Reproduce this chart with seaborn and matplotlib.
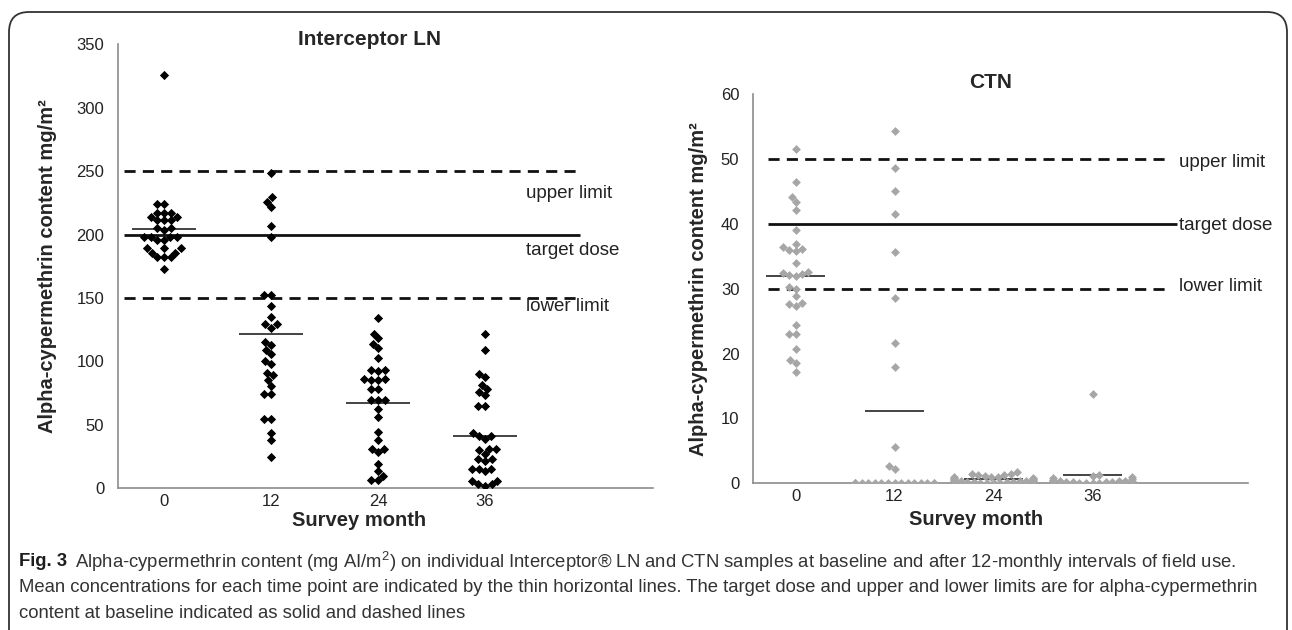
import warnings
import matplotlib
matplotlib.use("Agg")
import matplotlib.pyplot as plt
from matplotlib import font_manager
from matplotlib.patches import FancyBboxPatch
import seaborn as sns
import pandas as pd

warnings.filterwarnings("ignore")

# ---- data ----------------------------------------------------------------
months = ["0", "12", "24", "36"]

ln_m0 = [326, 223.7, 223.7, 216.9, 216.9, 216.9, 214, 214, 211.6, 211.6, 211.6,
         205, 205, 203.7, 197.9, 197.9, 197.9, 197.9, 195.8, 195.8, 189, 189, 189,
         185.8, 185.8, 182, 182, 182, 172.6]
ln_m12 = [248.5, 229.6, 226, 221.6, 206.9, 197.9, 152.2, 152.2, 143.5, 134.6,
          129.3, 129.3, 126.6, 115.3, 112.7, 108.7, 105.5, 100.3, 97.6, 90.8, 88.9,
          85, 80.2, 74.4, 74.4, 54.6, 54.6, 43.3, 37.5, 24.3]
ln_m24 = [133.8, 121.9, 118, 114, 110.8, 102.9, 93.4, 93.4, 92, 86.3, 86.3, 85, 85,
          78.4, 78.4, 69.1, 69.1, 69.1, 62.5, 55.9, 44, 37.5, 30.9, 30.9, 28.2, 19,
          13.7, 9.8, 6.3, 6.3]
ln_m36 = [121.9, 108.7, 90.2, 87.6, 81, 78.4, 75.7, 73.6, 64.4, 64.4, 43.3, 41.4,
          41.4, 38.8, 30.9, 30.9, 29.6, 26.9, 23, 23, 21.6, 15, 15, 15, 13.2, 5.8,
          5.8, 3.2, 3.2, 1.8]
ln_means = [204.5, 121.4, 67.3, 41.4]

ctn_m0 = [51.5, 46.4, 44.2, 43.4, 42.1, 39.1, 36.9, 36.4, 36.2, 36.0, 35.8, 33.9,
          32.6, 32.4, 32.3, 32.1, 32.0, 30.2, 29.9, 28.9, 27.8, 27.6, 27.4, 24.4,
          23.0, 23.0, 20.7, 19.0, 18.6, 17.2]
ctn_m12 = [54.3, 48.6, 45.1, 41.6, 35.6, 28.5, 21.7, 18.0, 5.6, 2.7, 2.2,
           0, 0, 0, 0, 0, 0, 0, 0, 0, 0, 0, 0, 0, 0, 0, 0]
ctn_m24 = [1.7, 1.5, 1.4, 1.3, 1.2, 1.1, 1.0, 1.0, 0.9, 0.8, 0.8, 0.7, 0.6, 0.5,
           0.5, 0.4, 0.4, 0.3, 0.3, 0.3, 0.2, 0.2, 0.2, 0.2, 0.1, 0.1, 0.1, 0.1]
ctn_m36 = [13.8, 1.3, 1.1, 0.9, 0.8, 0.6, 0.5, 0.4, 0.4, 0.3, 0.3, 0.3, 0.2, 0.2,
           0.2, 0.2, 0.1, 0.1, 0.1, 0.1]
ctn_means = [32.0, 11.2, 0.6, 1.3]

limit_names = ["upper limit", "target dose", "lower limit"]
ln_limits = [250, 200, 150]
ctn_limits = [50, 40, 30]

caption_1 = ("Alpha-cypermethrin content (mg AI/m$^2$) on individual Interceptor\u00ae LN "
             "and CTN samples at baseline and after 12-monthly intervals of field use.")
caption_2 = ("Mean concentrations for each time point are indicated by the thin horizontal "
             "lines. The target dose and upper and lower limits are for alpha-cypermethrin")
caption_3 = "content at baseline indicated as solid and dashed lines"


def to_frame(groups):
    rows = []
    for m, vals in zip(months, groups):
        rows += [(m, v) for v in vals]
    return pd.DataFrame(rows, columns=["month", "value"])


ln_df = to_frame([ln_m0, ln_m12, ln_m24, ln_m36])
ctn_df = to_frame([ctn_m0, ctn_m12, ctn_m24, ctn_m36])

# ---- style ---------------------------------------------------------------
sns.set_style("white")
names = {f.name for f in font_manager.fontManager.ttflist}
narrow = "Liberation Sans Narrow" if "Liberation Sans Narrow" in names else "Liberation Sans"
plt.rcParams["font.family"] = [narrow, "DejaVu Sans"]
plt.rcParams["mathtext.fontset"] = "custom"
plt.rcParams["mathtext.rm"] = narrow

order = months + [""]
axis_grey = "#8c8c8c"

fig = plt.figure(figsize=(12.92, 6.30), dpi=100)
ax1 = fig.add_axes([0.0913, 0.2254, 0.4141, 0.7041])
ax2 = fig.add_axes([0.5828, 0.2329, 0.3831, 0.6175])


def panel(ax, df, means, limits, color, size, ymax, ystep, title, title_pos,
          line_span, dash_end, text_x, text_dy, ylabel_x, xlabel_y):
    sns.swarmplot(data=df, x="month", y="value", order=order, color=color,
                  marker="D", size=size, linewidth=0, ax=ax, zorder=3,
                  warn_thresh=1)
    for i, m in enumerate(means):
        ax.hlines(m, i - 0.295, i + 0.295, color="#111111", lw=1.1, zorder=2)
    for label, v, dy in zip(limit_names, limits, text_dy):
        solid = label == "target dose"
        ax.hlines(v, line_span[0], line_span[1] if solid else dash_end,
                  color="#111111", lw=2.0,
                  linestyles="solid" if solid else (0, (4, 2.6)), zorder=2)
        ax.text(text_x, v + dy, label, fontsize=13.5, va="center", ha="left",
                color="#222222")
    ax.set_xlim(-0.43, 4.57)
    ax.set_ylim(0, ymax)
    ax.set_yticks(range(0, ymax + 1, ystep))
    ax.tick_params(axis="y", labelsize=12, length=4.3, color=axis_grey,
                   labelcolor="#222222", pad=5.5)
    ax.tick_params(axis="x", labelsize=12, length=0, labelcolor="#222222", pad=4)
    for s in ["top", "right"]:
        ax.spines[s].set_visible(False)
    for s in ["left", "bottom"]:
        ax.spines[s].set_color(axis_grey)
        ax.spines[s].set_linewidth(1.2)
    ax.set_xlabel("Survey month", fontsize=14.5, fontweight="bold", va="center")
    ax.xaxis.set_label_coords(0.45, xlabel_y)
    ax.set_ylabel("Alpha-cypermethrin content mg/m\u00b2", fontsize=14.5,
                  fontweight="bold", va="center")
    ax.yaxis.set_label_coords(ylabel_x, 0.5)
    ax.text(title_pos[0], title_pos[1], title, transform=ax.transAxes,
            fontsize=15, fontweight="bold", ha="center", va="center")


panel(ax1, ln_df, ln_means, ln_limits, "black", 4.7, 350, 50,
      "Interceptor LN", (0.47, 1.012), (-0.37, 3.89), 3.89, 3.38,
      [-17.5, -12.8, -6.4], -0.131, -0.073)
panel(ax2, ctn_df, ctn_means, ctn_limits, "#a6a6a6", 4.5, 60, 10,
      "CTN", (0.48, 1.029), (-0.28, 3.85), 3.77, 3.87,
      [-0.6, -0.2, 0.3], -0.111, -0.094)

# rounded frame around the figure
frame = FancyBboxPatch((0.09, -0.6), 12.78, 6.78, transform=fig.dpi_scale_trans,
                       boxstyle="round,pad=0,rounding_size=0.2", fill=False,
                       ec="#333333", lw=1.3)
fig.patches.append(frame)

# caption
fs = 13.3
fig.text(0.015, 0.108, "Fig. 3", fontsize=fs, fontweight="bold", color="#1d1d1d",
         va="center")
fig.text(0.058, 0.108, caption_1, fontsize=fs, color="#333333", va="center")
fig.text(0.015, 0.067, caption_2, fontsize=fs, color="#333333", va="center")
fig.text(0.015, 0.026, caption_3, fontsize=fs, color="#333333", va="center")

fig.savefig("out.png", dpi=100)
